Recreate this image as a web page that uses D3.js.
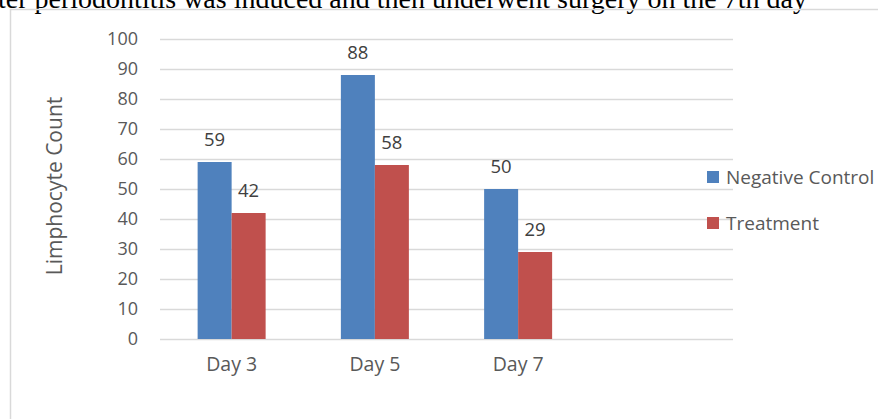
<!DOCTYPE html>
<html>
<head>
<meta charset="utf-8">
<script src="https://cdn.jsdelivr.net/npm/d3@7"></script>
<style>
  body { margin: 0; background: #fff; }
  svg { display: block; }
</style>
</head>
<body>
<svg id="chart" width="878" height="419"></svg>
<script>
// values
var days = ["Day 3", "Day 5", "Day 7", ""]
var negativeControl = [59, 88, 50]
var treatment = [42, 58, 29]
var seriesNames = ["Negative Control", "Treatment"]
var yTicks = [0, 10, 20, 30, 40, 50, 60, 70, 80, 90, 100]

var svg = d3.select("#chart"),
    margin = { top: 39, left: 160, bottom: 80, right: 145 },
    width = 878, height = 419;

var font = "'Open Sans', Lato, sans-serif"
var colors = d3.scaleOrdinal().domain(seriesNames).range(["#4f81bd", "#c0504d"])

// cropped caption line above the frame
svg.append("text")
    .attr("x", 807).attr("y", 8)
    .attr("text-anchor", "end")
    .attr("font-family", "'Liberation Serif', 'Times New Roman', serif")
    .attr("font-size", 28)
    .attr("fill", "#000")
    .text("after periodontitis was induced and then underwent surgery on the 7th day")

// chart frame (top and left edges visible)
svg.append("path")
    .attr("d", "M10.5,419 V9.5 H878")
    .attr("fill", "none")
    .attr("stroke", "#d9d9d9")
    .attr("stroke-width", 1.5)

var x = d3.scaleBand()
    .domain(days)
    .range([margin.left, width - margin.right])

var x1 = d3.scaleBand()
    .domain(seriesNames)
    .range([0, 68])

var y = d3.scaleLinear()
    .domain([0, 100])
    .range([height - margin.bottom, margin.top])

// gridlines
svg.append("g")
    .selectAll("line")
    .data(yTicks)
    .enter().append("line")
    .attr("x1", margin.left)
    .attr("x2", width - margin.right)
    .attr("y1", d => y(d) + 0.5)
    .attr("y2", d => y(d) + 0.5)
    .attr("stroke", "#d9d9d9")
    .attr("stroke-width", 1.3)

// y axis labels
var yAxis = svg.append("g")
    .attr("transform", `translate(${margin.left},0)`)
    .call(d3.axisLeft(y).tickValues(yTicks).tickSize(0).tickPadding(22))
yAxis.select(".domain").remove()
yAxis.selectAll("text")
    .attr("font-family", font)
    .attr("font-size", 18)
    .attr("fill", "#595959")

// x axis labels
var xAxis = svg.append("g")
    .attr("transform", `translate(0,${y(0)})`)
    .call(d3.axisBottom(x).tickSize(0).tickPadding(18))
xAxis.select(".domain").remove()
xAxis.selectAll("text")
    .attr("font-family", font)
    .attr("font-size", 19.5)
    .attr("fill", "#595959")

// bars
var rows = days.slice(0, 3).map((d, i) => ({
    day: d,
    vals: [
        { key: seriesNames[0], value: negativeControl[i] },
        { key: seriesNames[1], value: treatment[i] }
    ]
}))

var group = svg.selectAll("g.day")
    .data(rows)
    .enter().append("g")
    .attr("class", "day")
    .attr("transform", d => `translate(${x(d.day) + (x.bandwidth() - 68) / 2},0)`)

group.selectAll("rect")
    .data(d => d.vals)
    .enter().append("rect")
    .attr("x", d => x1(d.key))
    .attr("width", x1.bandwidth())
    .attr("y", d => y(d.value))
    .attr("height", d => y(0) - y(d.value))
    .attr("fill", d => colors(d.key))

// value labels
group.selectAll("text")
    .data(d => d.vals)
    .enter().append("text")
    .attr("x", d => x1(d.key) + x1.bandwidth() / 2)
    .attr("y", d => y(d.value) - 16)
    .attr("text-anchor", "middle")
    .attr("font-family", font)
    .attr("font-size", 18.5)
    .attr("fill", "#404040")
    .text(d => d.value)

// y axis title
svg.append("text")
    .attr("transform", "translate(62,186) rotate(-90)")
    .attr("text-anchor", "middle")
    .attr("font-family", font)
    .attr("font-size", 21)
    .attr("fill", "#595959")
    .text("Limphocyte Count")

// legend
var legend = svg.append("g")
    .selectAll("g")
    .data(seriesNames)
    .enter().append("g")
    .attr("transform", (d, i) => `translate(707,${171 + i * 46})`)

legend.append("rect")
    .attr("width", 12).attr("height", 12)
    .attr("fill", d => colors(d))

legend.append("text")
    .attr("x", 19).attr("y", 12.5)
    .attr("font-family", font)
    .attr("font-size", 19)
    .attr("fill", "#595959")
    .text(d => d)
</script>
</body>
</html>
